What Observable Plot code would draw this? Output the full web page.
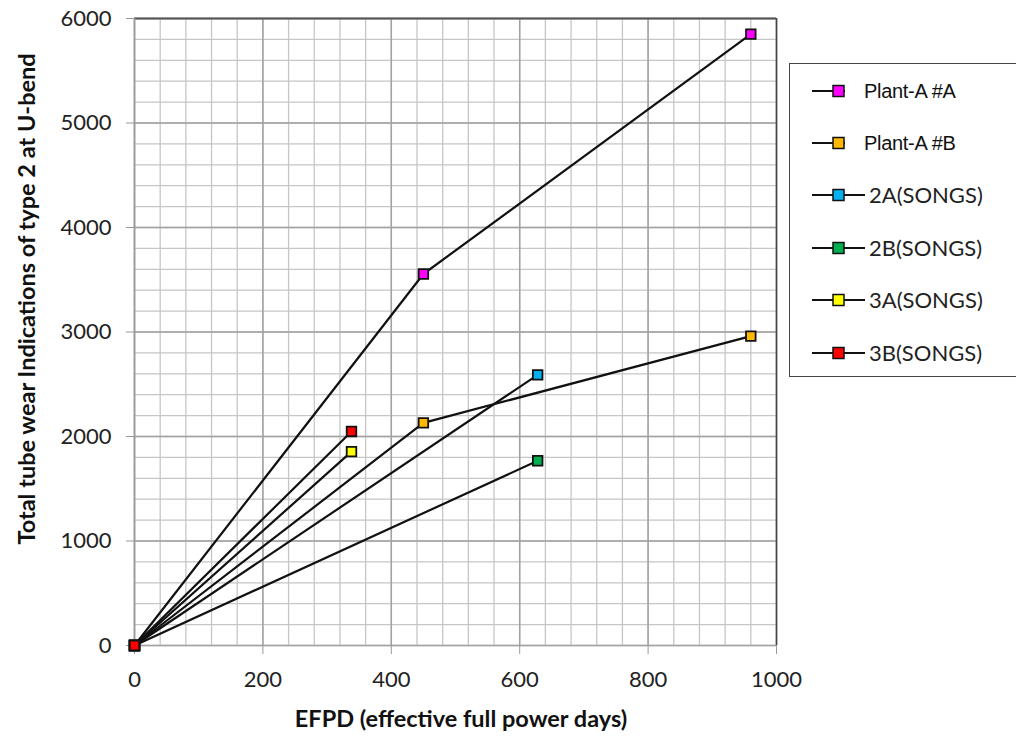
<!DOCTYPE html>
<html>
<head>
<meta charset="utf-8">
<script src="https://cdn.jsdelivr.net/npm/d3@7"></script>
<script src="https://cdn.jsdelivr.net/npm/@observablehq/plot@0.6"></script>
<style>
  html, body { margin: 0; padding: 0; background: #fff; overflow: hidden; }
  #wrap { position: relative; width: 1016px; height: 736px; }
  #legend { position: absolute; left: 789px; top: 63px; width: 260px; height: 314px;
    border: 1.3px solid #444; background: #fff; box-sizing: border-box; }
  .item { position: absolute; left: 0; height: 24px; }
  .item svg { position: absolute; left: 0; top: 0; }
  .item span { position: absolute; white-space: nowrap; color: #111; line-height: 24px; }
  .arial { font-family: "Liberation Sans", Arial, sans-serif; font-size: 20px; left: 74px; top: 0px; letter-spacing: -0.3px; }
  .cal { font-family: Lato, "Open Sans", sans-serif; font-size: 22px; left: 79px; top: 0px; color: #222 !important; }
</style>
</head>
<body>
<div id="wrap"><div id="chart"></div><div id="legend"></div></div>
<script>
const seriesNames = ["Plant-A #A", "Plant-A #B", "2A(SONGS)", "2B(SONGS)", "3A(SONGS)", "3B(SONGS)"];
const seriesColors = ["#ff00ff", "#ffb800", "#00b0f0", "#00b050", "#ffff00", "#ff0000"];
const efpd = [
  [0, 450, 960],
  [0, 450, 960],
  [0, 628],
  [0, 628],
  [0, 338],
  [0, 338]
];
const indications = [
  [0, 3555, 5850],
  [0, 2130, 2960],
  [0, 2590],
  [0, 1768],
  [0, 1855],
  [0, 2048]
];
const xTicks = [0, 200, 400, 600, 800, 1000];
const yTicks = [0, 1000, 2000, 3000, 4000, 5000, 6000];
const xMinor = d3.range(0, 1001, 40);
const yMinor = d3.range(0, 6001, 200);

const data = [];
seriesNames.forEach((s, i) => {
  efpd[i].forEach((x, j) => data.push({series: s, idx: i, x, y: indications[i][j]}));
});

const chart = Plot.plot({
  width: 1016,
  height: 736,
  marginLeft: 134,
  marginRight: 240,
  marginTop: 18,
  marginBottom: 91,
  style: {fontFamily: "Lato, 'Open Sans', sans-serif", background: "#fff"},
  x: {domain: [0, 1000], ticks: xTicks},
  y: {domain: [0, 6000], ticks: yTicks},
  marks: [
    Plot.ruleX(xMinor, {stroke: "#c6c6c6", strokeWidth: 1.3}),
    Plot.ruleY(yMinor, {stroke: "#c6c6c6", strokeWidth: 1.3}),
    Plot.ruleX(xTicks, {stroke: "#a2a2a2", strokeWidth: 1.5}),
    Plot.ruleY(yTicks, {stroke: "#a2a2a2", strokeWidth: 1.5}),
    Plot.ruleY([6000], {stroke: "#555", strokeWidth: 2}),
    Plot.ruleX([1000], {stroke: "#444", strokeWidth: 1.5}),
    Plot.ruleX([0], {stroke: "#999", strokeWidth: 1.5}),
    Plot.axisX({ticks: xTicks, tickFormat: d3.format("d"), tickSize: 9, tickPadding: 17, stroke: "#999", fontSize: 22, fill: "#222",
      label: "EFPD (effective full power days)", labelAnchor: "center", labelArrow: "none", labelOffset: 84}),
    Plot.axisY({ticks: yTicks, tickFormat: d3.format("d"), tickSize: 8, tickPadding: 15, stroke: "#999", fontSize: 22, fill: "#222",
      label: "Total tube wear Indications of type 2 at U-bend", labelAnchor: "center", labelArrow: "none", labelOffset: 108}),
    Plot.line(data, {x: "x", y: "y", z: "series", stroke: "#111", strokeWidth: 2.2}),
    Plot.dot(data, {x: "x", y: "y", symbol: "square", r: 5.4, fill: d => seriesColors[d.idx], stroke: "#111", strokeWidth: 1.8})
  ]
});
document.getElementById("chart").appendChild(chart);

// axis labels: bold, positioned like the reference
function fixLabel(sel, x, y, rotate) {
  const t = chart.querySelector(sel + " text");
  if (!t) return;
  const g = t.parentNode;
  g.removeAttribute("transform");
  t.removeAttribute("x"); t.removeAttribute("y");
  t.setAttribute("transform", `translate(${x},${y})` + (rotate ? ` rotate(${rotate})` : ""));
  t.setAttribute("text-anchor", "middle");
  t.setAttribute("dy", "0.35em");
  t.setAttribute("font-weight", "bold");
  t.setAttribute("font-size", "23.5");
  t.setAttribute("fill", "#111");
}
fixLabel("[aria-label='x-axis label']", 461, 719, 0);
fixLabel("[aria-label='y-axis label']", 27, 299, -90);

// legend
const legend = document.getElementById("legend");
const rowsY = [27, 79, 131, 184, 236, 289];
seriesNames.forEach((s, i) => {
  const item = document.createElement("div");
  item.className = "item";
  item.style.top = (rowsY[i] - 12) + "px";
  const short = i < 2;
  item.innerHTML = `<svg width="80" height="24"><line x1="22" x2="${short ? 55 : 75}" y1="12" y2="12" stroke="#111" stroke-width="2"/>` +
    `<rect x="43" y="6.5" width="11" height="11" fill="${seriesColors[i]}" stroke="#111" stroke-width="1.5"/></svg>` +
    `<span class="${short ? 'arial' : 'cal'}">${s}</span>`;
  legend.appendChild(item);
});
</script>
</body>
</html>
